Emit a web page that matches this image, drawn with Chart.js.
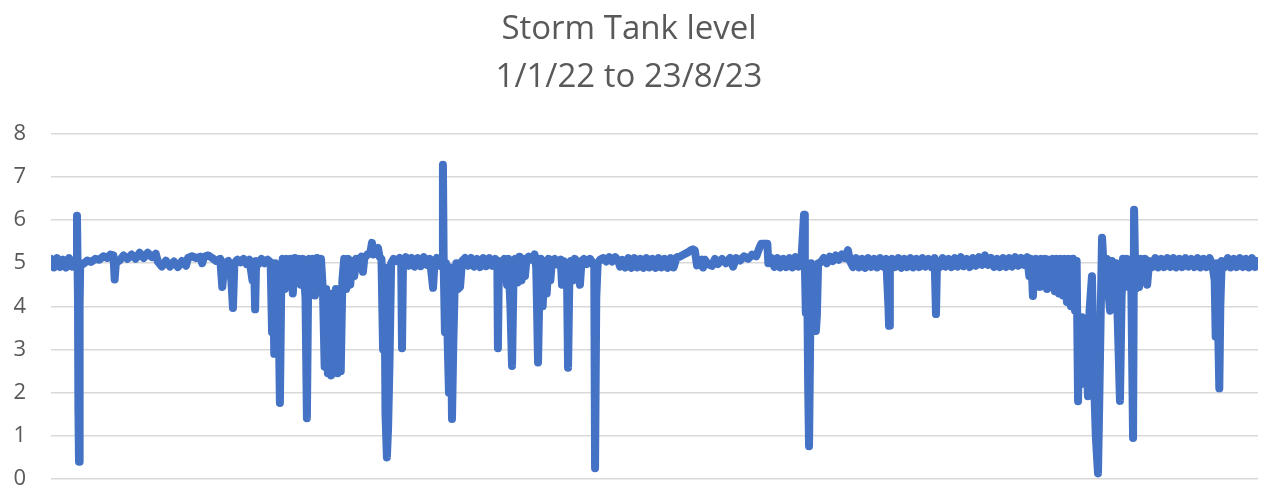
<!DOCTYPE html>
<html>
<head>
<meta charset="utf-8">
<title>Storm Tank level</title>
<script src="https://cdn.jsdelivr.net/npm/chart.js@4.4.0/dist/chart.umd.min.js"></script>
<style>
    html, body { margin: 0; padding: 0; background: #fff; }
    #wrap { width: 1263px; height: 486px; position: relative; }
</style>
</head>
<body>
<div id="wrap"><canvas id="tank-chart"></canvas></div>
<script>
const titleLines = ['Storm Tank level', '1/1/22 to 23/8/23'];
const yTicks = [0, 1, 2, 3, 4, 5, 6, 7, 8];
const dayCount = 599; // 1/1/22 .. 23/8/23

// day offset from 1/1/22 for each reading
const days = [
    0, 1.5, 3, 4.5, 6, 7.5, 9, 10.5, 12,
    12.6, 12.9, 13.4, 13.6, 13.9, 14.2, 14.5,
    16, 18, 20, 22, 24, 26, 28, 29.5, 31, 31.6, 32.2,
    34, 36, 38, 40, 42, 44, 46, 48, 50, 52,
    53, 55, 57, 59, 61, 63, 65, 67,
    68, 70, 72, 74, 75, 76, 78, 80,
    82, 84, 85, 86, 88, 89.5, 90.3, 91, 92.5, 94,
    95.5, 97, 98.5, 100, 100.8, 101.3, 101.8, 103, 104.5, 106, 107.5, 109,
    109.7, 110.2, 110.8, 111.3, 112.2, 112.8, 113.6, 114.3, 115,
    116, 117, 118, 119, 120, 121, 122, 123,
    124, 125, 126.3, 127, 127.6, 128.3, 129, 130, 131, 132, 133, 134,
    135, 135.8, 136.6, 137.4, 138.2, 139, 139.8, 140.6, 141.4, 142.2, 143, 143.8, 144.6, 145.5,
    146.5, 147.5, 148.5, 149.5, 150.5, 151.5,
    152.5, 154, 154.8, 155.5, 157, 158.5, 159.3, 160, 161, 162.3, 163,
    164, 164.8, 165.5, 166, 166.7, 167.3, 168, 168.8,
    170, 171.5, 173, 173.8, 174.2, 174.7,
    176, 177.5, 179, 180.5, 182, 183.5, 185, 186.5, 188, 189, 189.6, 190.3, 191.5, 193,
    194.1, 194.5, 194.9, 195.5, 196, 196.8, 197.5, 198.3, 199, 199.6, 200.3, 201.2, 202, 203, 204,
    205.5, 207, 208.5, 210, 211.5, 213, 214.5, 216, 217.5, 219, 220.5,
    221.5, 221.8, 222.3, 223.5, 225,
    226.3, 227, 228, 228.8, 229.5, 230.5, 231.5, 232.5, 233.5, 234.5, 235.2, 236,
    237, 238.5, 240,
    240.8, 241.2, 241.7, 242.3, 243, 244, 245, 246, 247, 247.8, 248.6,
    250, 251.5, 253, 253.6, 254.3, 255.3, 256,
    256.6, 257.2, 258, 259, 260, 261.5, 262.5, 263.3, 264.5, 266, 267.5, 269,
    269.6, 270, 270.6, 271.3, 272.5,
    274, 275.5, 277, 278.5, 280, 281.5, 282.4, 283.5,
    285, 286.5, 288, 289.5, 291, 292.5, 294, 295.5, 297, 298.5, 300, 301.5, 303, 304.5, 306, 307.5, 309, 310.5,
    312, 314, 316, 317.5, 318.6, 319.5, 320.6,
    321.5, 323, 323.6, 324.5, 326, 328, 329.5, 331, 333, 335, 337, 338.5, 340, 342, 344, 346, 348, 350,
    351.5, 352.5, 355.5, 356,
    357.5, 359, 360.5, 362, 363.5, 365, 366.5, 368, 369.5, 371, 372.5,
    373.7, 374.1, 374.6, 375.2, 375.8, 376.2, 376.7, 377.2, 378.5, 379.6, 380.1, 380.7,
    382, 383.5, 385, 386.5, 388, 389.5, 391, 392.5, 394, 395.5, 396.5,
    398, 399.5, 401, 402.5, 404, 405.5, 407, 408.5, 410, 411.5, 413, 414.5,
    415.6, 415.9, 416.3, 417.5,
    419, 420.5, 422, 423.5, 425, 426.5, 428, 429.5, 431, 432.5, 434, 435.5, 437, 438.5,
    439.2, 439.7,
    441, 442.5, 444, 445.5, 447, 448.5, 450, 451.5, 453, 454.5, 456, 457.5, 459, 460.5, 462, 463.5, 465, 466.5,
    468, 469.5, 471, 472.5, 474, 475.5, 477, 478.5, 480, 481.5, 483, 484.5,
    485.5, 486.5, 487.3, 488, 489, 490.2, 490.8, 491.5, 492.5, 493.5, 494.3, 495.2, 496.2,
    497.2, 498.2, 499.2, 500.2, 501.2, 502.2, 503.2, 504.2, 505.2, 506.2, 507.2, 508.2, 509,
    509.7, 510.3, 511, 511.7, 512.5, 513.5, 514.6, 515.4, 516.6,
    517.5, 518.5, 519.6, 520.3, 521, 521.6, 522.3, 523, 524, 525, 525.6, 526.5,
    527.5, 528.5, 529.5, 530.5, 531.3, 532, 533, 534, 535, 536, 537, 537.5,
    538.2, 539, 540, 541, 542, 543, 544, 545,
    546.5, 548, 549.5, 551, 552.5, 554, 555.5, 557, 558.5, 560, 561.5, 563, 564.5, 566, 567.5, 569, 570.5, 572, 573.5, 575, 576.5,
    577.5, 578, 578.5, 579.3, 579.8, 580.3, 581,
    582.5, 584, 585.5, 587, 588.5, 590, 591.5, 593, 594.5, 596, 597.5, 598.5
];

// tank level readings
const levels = [
    5.1, 4.9, 5.12, 4.91, 5.08, 4.9, 5.12, 4.92, 5.05,
    5.0, 6.1, 4.1, 1.6, 0.4, 4.0, 5.0,
    4.98, 5.06, 5.03, 5.1, 5.08, 5.16, 5.12, 5.2, 5.18, 4.62, 5.02,
    5.06, 5.18, 5.1, 5.2, 5.1, 5.24, 5.12, 5.24, 5.14, 5.22,
    5.04, 4.92, 5.06, 4.92, 5.04, 4.91, 5.05, 4.94,
    5.12, 5.16, 5.12, 5.15, 5.0, 5.15, 5.18, 5.12,
    5.05, 5.1, 4.45, 5.0, 5.05, 4.6, 3.96, 5.0, 5.08, 5.02,
    5.1, 4.98, 5.08, 4.6, 5.0, 3.93, 5.05, 4.98, 5.1, 5.0, 5.08, 5.02,
    3.4, 4.9, 2.9, 5.0, 3.3, 4.5, 1.76, 4.6, 5.1,
    4.4, 5.1, 4.6, 5.1, 4.3, 5.12, 4.7, 5.1,
    4.5, 5.1, 4.2, 1.41, 4.4, 5.1, 4.4, 5.1, 4.25, 5.12, 4.6, 5.1,
    4.3, 2.6, 4.4, 2.45, 3.5, 2.4, 4.3, 2.5, 4.4, 2.45, 4.35, 2.5, 4.6, 5.1,
    4.4, 5.1, 4.5, 5.05, 4.7, 5.1,
    5.08, 5.15, 4.8, 5.12, 5.2, 5.25, 5.47, 5.2, 5.3, 5.35, 5.15,
    5.1, 3.0, 4.9, 1.5, 0.5, 1.2, 2.7, 5.0,
    5.1, 5.05, 5.12, 5.0, 3.03, 5.05,
    5.14, 4.94, 5.12, 4.92, 5.12, 4.93, 5.14, 4.96, 5.1, 4.7, 4.43, 5.0, 5.12, 4.94,
    5.0, 7.28, 4.9, 3.4, 5.0, 3.3, 2.0, 4.9, 1.39, 3.0, 4.4, 5.0, 4.4, 4.45, 5.05,
    5.12, 4.94, 5.12, 4.92, 5.1, 4.91, 5.12, 4.93, 5.12, 4.94, 5.1,
    5.0, 3.03, 5.05, 4.98, 5.1,
    4.5, 5.1, 4.0, 2.62, 4.6, 5.1, 4.55, 5.15, 4.6, 5.1, 4.7, 5.1,
    5.15, 5.08, 5.2,
    4.9, 4.0, 2.7, 4.2, 5.1, 4.0, 5.05, 4.3, 5.1, 4.6, 5.05,
    5.1, 4.97, 5.08, 4.5, 5.05, 4.55, 5.0,
    2.58, 4.5, 5.05, 4.6, 5.1, 4.98, 4.5, 5.05, 5.1, 4.98, 5.1, 5.0,
    4.9, 0.25, 4.2, 5.0, 5.08,
    5.12, 5.04, 5.14, 5.04, 5.14, 5.06, 4.92, 5.08,
    4.9, 5.12, 4.89, 5.12, 4.9, 5.1, 4.89, 5.12, 4.9, 5.1, 4.89, 5.12, 4.9, 5.1, 4.89, 5.12, 4.9, 5.14,
    5.15, 5.2, 5.25, 5.3, 5.32, 5.3, 4.95,
    5.0, 5.08, 4.9, 5.08, 4.98, 4.94, 5.1, 4.98, 5.1, 5.0, 5.12, 4.92, 5.12, 5.06, 5.16, 5.1, 5.2, 5.16,
    5.35, 5.45, 5.45, 5.0,
    5.12, 4.91, 5.12, 4.9, 5.1, 4.91, 5.12, 4.9, 5.14, 4.92, 5.15,
    6.12, 5.0, 3.85, 5.0, 2.0, 0.76, 3.0, 5.0, 4.6, 3.43, 3.8, 5.0,
    5.02, 5.12, 5.0, 5.15, 5.05, 5.18, 5.08, 5.2, 5.12, 5.3, 5.05,
    4.91, 5.12, 4.9, 5.1, 4.89, 5.12, 4.91, 5.1, 4.9, 5.12, 4.92, 5.1,
    4.0, 3.55, 4.9, 5.1,
    4.91, 5.12, 4.89, 5.1, 4.91, 5.12, 4.9, 5.1, 4.91, 5.12, 4.92, 5.1, 4.91, 5.12,
    3.82, 5.0,
    4.91, 5.12, 4.92, 5.1, 4.91, 5.12, 4.92, 5.14, 4.93, 5.1, 4.91, 5.12, 4.94, 5.14, 4.96, 5.18, 4.96, 5.12,
    4.91, 5.1, 4.91, 5.12, 4.91, 5.12, 4.92, 5.14, 4.94, 5.12, 4.96, 5.14,
    4.7, 5.1, 4.24, 4.9, 5.1, 4.6, 4.45, 5.1, 4.5, 5.1, 4.4, 5.08, 4.45,
    5.1, 4.35, 5.1, 4.3, 5.1, 4.25, 5.1, 4.1, 5.1, 4.0, 5.1, 3.9, 5.05,
    1.8, 3.7, 2.2, 3.75, 2.8, 3.5, 1.92, 3.9, 4.7,
    2.5, 1.0, 0.13, 2.0, 4.0, 5.59, 5.0, 4.3, 5.1, 4.2, 3.9, 5.05,
    4.3, 5.0, 3.5, 1.81, 4.2, 5.1, 4.45, 5.1, 4.5, 5.0, 0.95, 6.24,
    4.4, 5.1, 4.45, 5.1, 4.6, 5.1, 4.5, 5.05,
    4.91, 5.12, 4.9, 5.1, 4.91, 5.12, 4.91, 5.12, 4.9, 5.1, 4.91, 5.12, 4.92, 5.1, 4.91, 5.12, 4.9, 5.1, 4.91, 5.12, 4.92,
    4.6, 3.3, 5.0, 3.3, 2.1, 4.0, 5.05,
    4.91, 5.12, 4.9, 5.1, 4.91, 5.12, 4.91, 5.1, 4.9, 5.12, 4.91, 5.05
];

const textColor = '#595959';
const fontFamily = "'Open Sans', 'Noto Sans', sans-serif";

function renderTankChart() {
    const ctx = document.getElementById('tank-chart').getContext('2d');
    const points = days.map((d, i) => ({ x: d, y: levels[i] }));

    new Chart(ctx, {
        type: 'line',
        data: {
            datasets: [{
                label: 'Storm Tank level',
                data: points,
                borderColor: '#4472C4',
                borderWidth: 8,
                borderJoinStyle: 'round',
                borderCapStyle: 'round',
                pointRadius: 0,
                tension: 0,
                fill: false
            }]
        },
        options: {
            responsive: true,
            maintainAspectRatio: false,
            animation: false,
            layout: { padding: { left: 0, right: 5, top: 0, bottom: 7 } },
            plugins: {
                legend: { display: false },
                tooltip: { enabled: false },
                title: {
                    display: true,
                    text: titleLines,
                    color: textColor,
                    font: { family: fontFamily, size: 33, weight: 'normal', lineHeight: 1.45 },
                    padding: { top: 6, bottom: 32 }
                }
            },
            scales: {
                x: {
                    type: 'linear',
                    min: 0,
                    max: dayCount,
                    display: false
                },
                y: {
                    min: yTicks[0],
                    max: yTicks[yTicks.length - 1],
                    afterBuildTicks: (scale) => {
                        scale.ticks = yTicks.map(v => ({ value: v }));
                    },
                    afterFit: (scale) => {
                        scale.width = 51;
                        scale.paddingTop = 0;
                        scale.paddingBottom = 0;
                    },
                    border: { display: false },
                    grid: { color: '#D9D9D9', lineWidth: 1.5, drawTicks: false },
                    ticks: {
                        color: textColor,
                        padding: 25,
                        font: { family: fontFamily, size: 22 }
                    }
                }
            }
        }
    });
}

document.addEventListener('DOMContentLoaded', renderTankChart);
</script>
</body>
</html>
